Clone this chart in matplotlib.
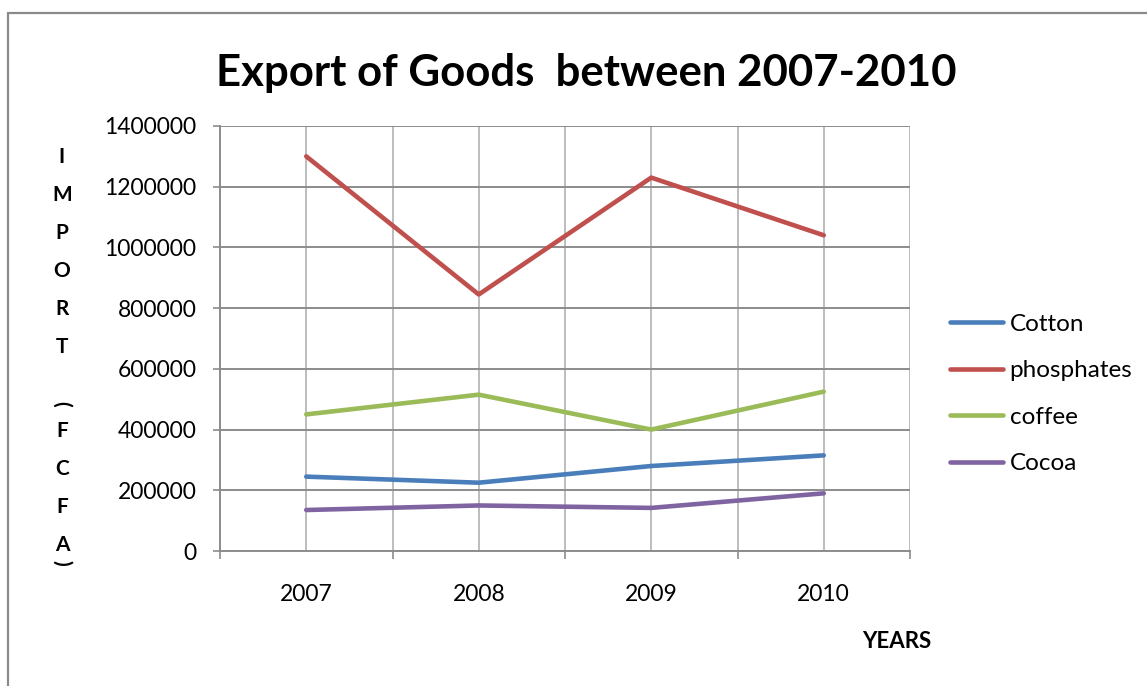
import matplotlib
matplotlib.use("Agg")
import matplotlib.pyplot as plt
from matplotlib.patches import Rectangle

years = ["2007", "2008", "2009", "2010"]
cotton = [245000, 225000, 280000, 315000]
phosphates = [1300000, 845000, 1230000, 1040000]
coffee = [450000, 515000, 400000, 525000]
cocoa = [135000, 150000, 142000, 190000]
series_names = ["Cotton", "phosphates", "coffee", "Cocoa"]
series_colors = ["#4A7EBB", "#C0504D", "#9BBB59", "#8064A2"]
yticks = [0, 200000, 400000, 600000, 800000, 1000000, 1200000, 1400000]

W, H = 1147, 686
plt.rcParams['font.family'] = ['Lato', 'DejaVu Sans']
fig = plt.figure(figsize=(W / 100, H / 100), dpi=100)
fig.patch.set_facecolor("white")

def fx(px):
    return px / W

def fy(py):
    return 1 - py / H

ax = fig.add_axes([fx(220), fy(551), fx(910) - fx(220), fy(126) - fy(551)])
x = list(range(len(years)))
for vals, name, col in zip([cotton, phosphates, coffee, cocoa], series_names, series_colors):
    ax.plot(x, vals, color=col, lw=3.3, solid_capstyle='round', solid_joinstyle='round',
            label=name, zorder=3)

ax.set_xlim(-0.5, len(years) - 0.5)
ax.set_ylim(0, 1400000)
ax.set_yticks(yticks)
ax.set_yticklabels([str(v) for v in yticks])
ax.set_xticks(x)
ax.set_xticklabels(years)
ax.set_xticks([i - 0.5 for i in range(len(years) + 1)], minor=True)

# gridlines
for v in yticks:
    ax.axhline(v, color="#8c8c8c", lw=1.4, zorder=1)
for i in range(2 * len(years) + 1):
    ax.axvline(-0.5 + i * 0.5, color="#bdbdbd", lw=1.4, zorder=0.9)

for s in ["top", "right"]:
    ax.spines[s].set_visible(False)
for s in ["left", "bottom"]:
    ax.spines[s].set_color("#8c8c8c")
    ax.spines[s].set_linewidth(1.4)

ax.tick_params(axis='y', which='major', length=5, width=1.2, color="#8c8c8c",
               labelsize=16.5, pad=12)
ax.tick_params(axis='x', which='major', length=0, labelsize=16.5, pad=24)
ax.tick_params(axis='x', which='minor', length=6, width=1.2, color="#8c8c8c")

# title
fig.text(fx(586), fy(86), "Export of Goods  between 2007-2010", ha='center', va='baseline',
         fontsize=31.5, fontweight='bold')

# y label stacked (Excel "stacked" text, parentheses turned)
label = "IMPORT (FCFA)"
y = 157
for i, ch in enumerate(label):
    nxt = label[i + 1] if i + 1 < len(label) else ''
    if ch == ' ':
        y += 19
        continue
    rot = -90 if ch in "()" else 0
    fig.text(fx(62), fy(y), ch, ha='center', va='center', fontsize=15,
             fontweight='bold', rotation=rot)
    if ch == '(':
        y += 27
    elif nxt == ')':
        y += 18
    else:
        y += 38

fig.text(fx(897), fy(641), "YEARS", ha='center', va='center', fontsize=16, fontweight='bold')

leg = ax.legend(loc='center left', bbox_to_anchor=(fx(950), fy(394)),
                bbox_transform=fig.transFigure, frameon=False, fontsize=17.5,
                handlelength=2.2, handletextpad=0.25, labelspacing=1.05,
                borderpad=0, borderaxespad=0)

# chart frame
fig.patches.append(Rectangle((fx(8), fy(720)), fx(1200) - fx(8), fy(13) - fy(720),
                             transform=fig.transFigure, fill=False, edgecolor="#8a8a8a",
                             lw=1.6, clip_on=False))

fig.savefig("out.png", dpi=100)
